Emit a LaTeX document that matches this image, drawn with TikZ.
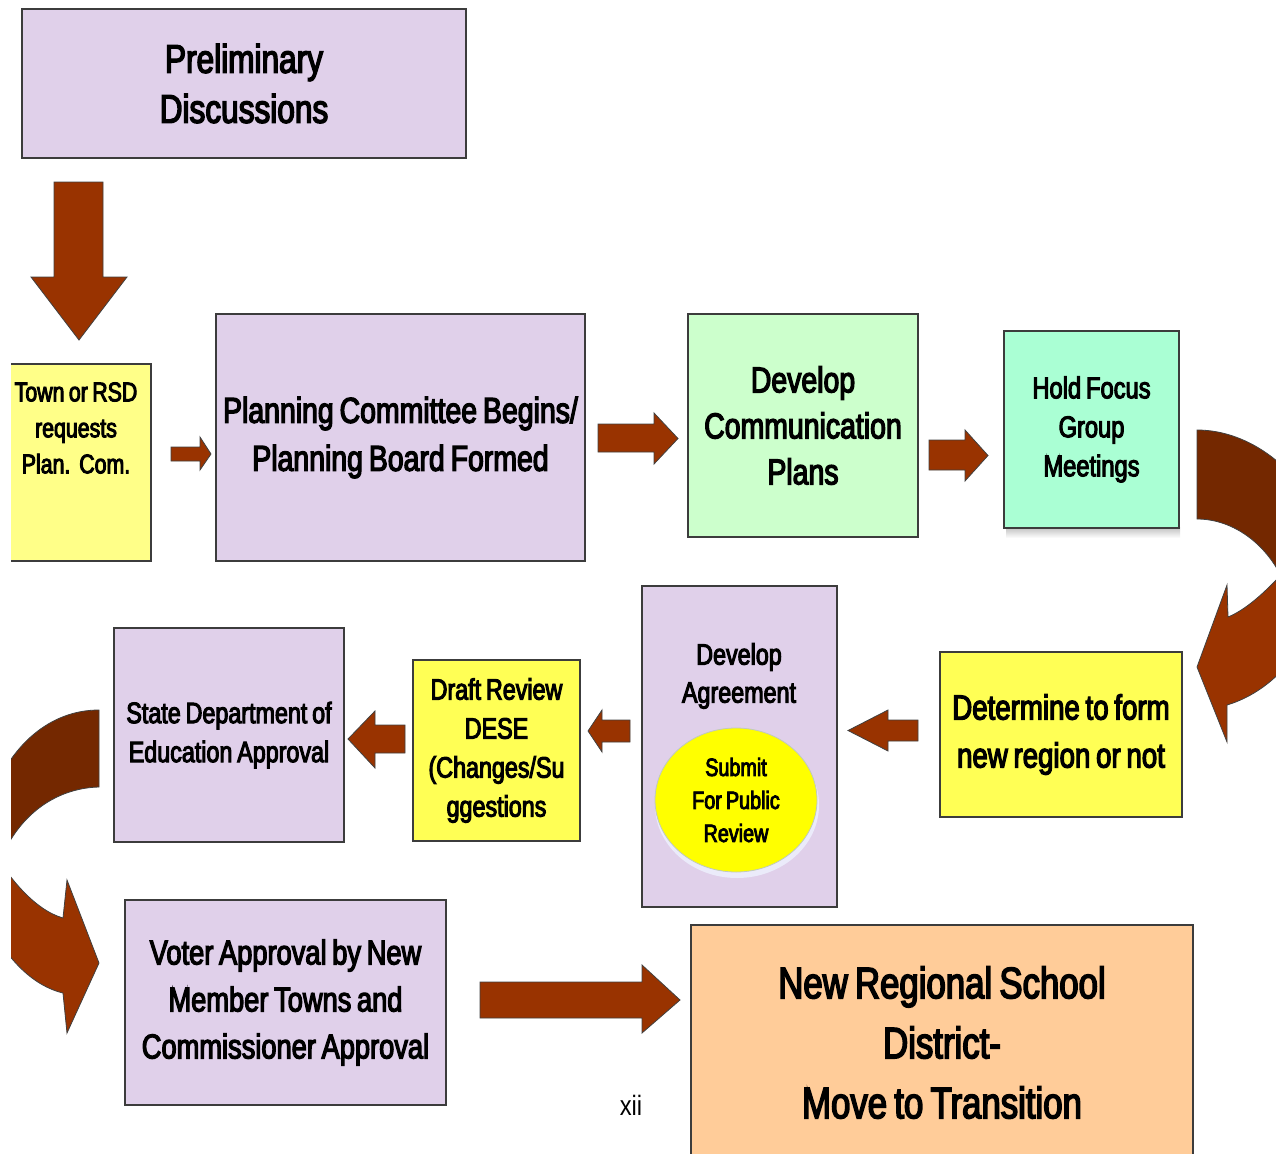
\documentclass[tikz,border=0pt]{standalone}
\usepackage{fontspec}
\usetikzlibrary{shapes.geometric}
\setmainfont{Liberation Sans}[FakeStretch=0.79,FakeBold=3.5,WordSpace=0.75]
\newfontfamily\plainfont{Liberation Sans}[FakeStretch=0.85]
\newcommand\fsz[2]{\fontsize{#1}{#2}\selectfont}
\definecolor{lav}{RGB}{224,208,234}
\definecolor{paleyel}{RGB}{255,255,136}
\definecolor{yel}{RGB}{255,255,85}
\definecolor{brightyel}{RGB}{255,255,0}
\definecolor{mint}{RGB}{204,255,204}
\definecolor{aqua}{RGB}{170,255,212}
\definecolor{peach}{RGB}{255,204,153}
\definecolor{brn}{RGB}{153,51,0}
\definecolor{dbrn}{RGB}{116,40,0}
\definecolor{bord}{RGB}{60,60,60}
\tikzset{
  box/.style={draw=bord, line width=1.6pt, inner sep=0pt, outer sep=0pt, align=center},
  txt/.style={inner sep=0pt, outer sep=0pt, align=center},
  barrow/.style={fill=brn, draw=black!75, line width=0.8pt, line join=miter},
  darrow/.style={fill=dbrn, draw=black!75, line width=0.8pt, line join=miter},
}
\begin{document}
\begin{tikzpicture}[x=1pt,y=-1pt]
\useasboundingbox (0,0) rectangle (1276,1153);
\begin{scope}
\clip (11,0) rectangle (1276,1153);
% boxes
\node[box, fill=lav, minimum width=444, minimum height=149, font=\fsz{40}{50}] (prelim) at (244,83.5) {Preliminary\\Discussions};
\node[box, fill=paleyel, minimum width=145, minimum height=197] (town) at (78.5,462.5) {};
\node[txt, font=\fsz{27}{36}] (towntxt) at (76,428) {Town or RSD\\requests\\Plan.\ \ Com.};
\node[box, fill=lav, minimum width=369, minimum height=247, font=\fsz{36}{48}] (plan) at (400.5,437.5) {Planning Committee Begins/\\Planning Board Formed};
\node[box, fill=mint, minimum width=230, minimum height=223, font=\fsz{36}{46}] (comm) at (803,425.5) {Develop\\Communication\\Plans};
\shade[top color=black!25, bottom color=white] (1006,527) rectangle (1180,538);
\node[box, fill=aqua, minimum width=175, minimum height=197, font=\fsz{30}{39}] (focus) at (1091.5,429.5) {Hold Focus\\Group\\Meetings};
\node[box, fill=yel, minimum width=242, minimum height=165, font=\fsz{35}{48}] (determine) at (1061,734.5) {Determine to form\\new region or not};
\node[box, fill=lav, minimum width=195, minimum height=321] (agree) at (739.5,746.5) {};
\node[txt, font=\fsz{29.5}{38}] (agreetxt) at (739,676) {Develop\\Agreement};
\fill[black!22!blue!8] (737,805) ellipse [x radius=82, y radius=73];
\node[ellipse, draw=green!15!black!25, line width=0.8pt, fill=brightyel, minimum width=162, minimum height=144, inner sep=0pt, align=center, font=\fsz{25}{33}] (public) at (736,800) {Submit\\For Public\\Review};
\node[box, fill=yel, minimum width=167, minimum height=181, font=\fsz{29.5}{39}] (draft) at (496.5,750.5) {Draft Review\\DESE\\(Changes/Su\\ggestions};
\node[box, fill=lav, minimum width=230, minimum height=214, font=\fsz{29.5}{39}] (state) at (229,735) {State Department of\\Education Approval};
\node[box, fill=lav, minimum width=321, minimum height=205, font=\fsz{34.5}{47}] (voter) at (285.5,1002.5) {Voter Approval by New\\Member Towns and\\Commissioner Approval};
\node[box, fill=peach, minimum width=502, minimum height=235, font=\fsz{44}{60}] (newreg) at (942,1042.5) {New Regional School\\District-\\Move to Transition};
\node[txt, font=\plainfont\fsz{28}{30}] (page) at (631,1105) {xii};
% straight block arrows
\draw[barrow] (54,182) -- (103,182) -- (103,277) -- (127,277) -- (79,340) -- (31,277) -- (54,277) -- cycle;
\draw[barrow] (171,447) -- (200,447) -- (200,437) -- (211,454) -- (200,470) -- (200,461) -- (171,461) -- cycle;
\draw[barrow] (598,424) -- (654,424) -- (654,413) -- (678,438.5) -- (654,464) -- (654,452) -- (598,452) -- cycle;
\draw[barrow] (929,440) -- (965,440) -- (965,430) -- (988,455.5) -- (965,481) -- (965,470) -- (929,470) -- cycle;
\draw[barrow] (918,720) -- (888,720) -- (888,710) -- (848,730.5) -- (888,751) -- (888,741) -- (918,741) -- cycle;
\draw[barrow] (630,720) -- (602,720) -- (602,710) -- (588,731) -- (602,752) -- (602,742) -- (630,742) -- cycle;
\draw[barrow] (405,725) -- (375,725) -- (375,711) -- (348,739) -- (375,768) -- (375,753) -- (405,753) -- cycle;
\draw[barrow] (480,982) -- (642,982) -- (642,965) -- (680,1000) -- (642,1033) -- (642,1018) -- (480,1018) -- cycle;
% right curved arrow
\draw[darrow] (1197,430) .. controls (1250,430) and (1300,470) .. (1320,520) -- (1320,574) -- (1280,574) .. controls (1262,540) and (1230,519) .. (1197,519) -- cycle;
\draw[barrow] (1300,560) -- (1280,576) .. controls (1262,595) and (1245,610) .. (1228,617) -- (1227,585) -- (1197,667) -- (1227,742) -- (1227,705) .. controls (1260,695) and (1290,670) .. (1310,630) -- cycle;
% left curved arrow
\draw[darrow] (99,710) -- (99,787) .. controls (60,788) and (25,810) .. (5,850) -- (-10,850) -- (-10,800) .. controls (10,745) and (50,710) .. (99,710) -- cycle;
\draw[barrow] (-10,845) .. controls (8,878) and (35,910) .. (63,918) -- (67,880) -- (99,963) -- (67,1033) -- (63,993) .. controls (30,985) and (5,955) .. (-10,925) -- cycle;
\end{scope}
\end{tikzpicture}
\end{document}
